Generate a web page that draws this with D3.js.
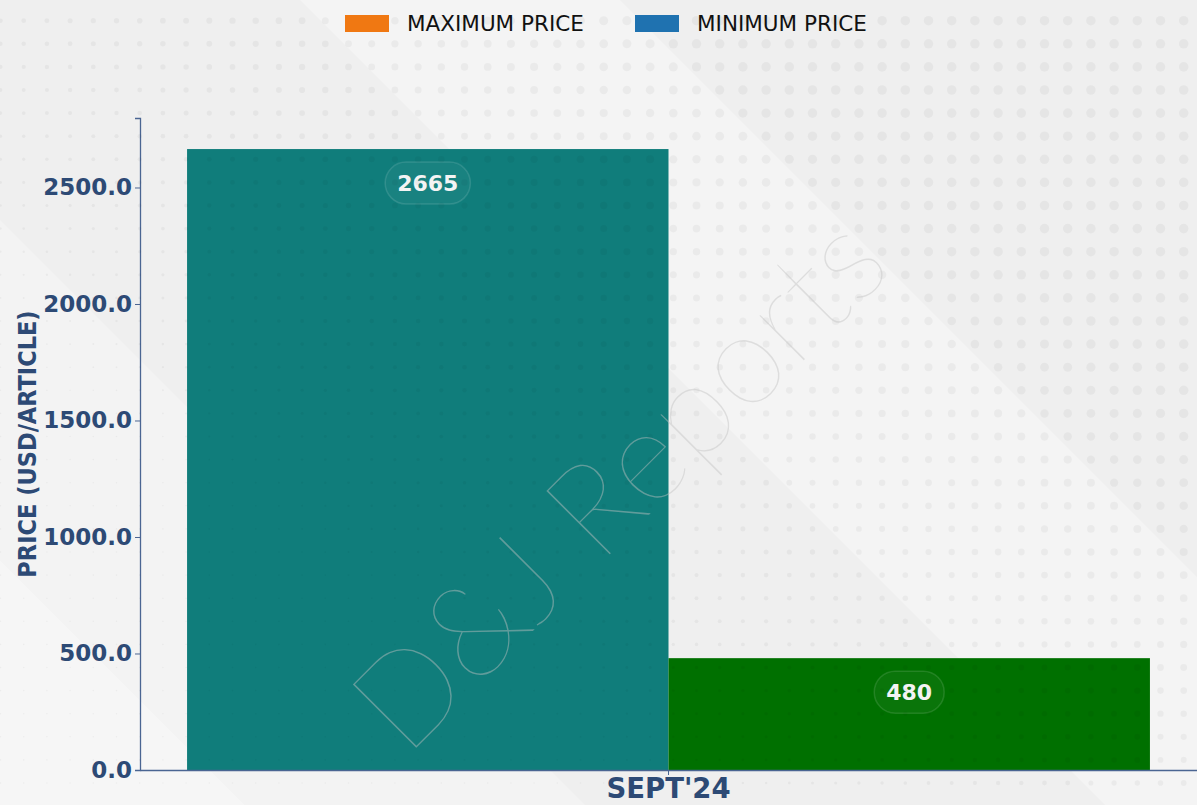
<!DOCTYPE html>
<html>
<head>
<meta charset="utf-8">
<script src="https://cdn.jsdelivr.net/npm/d3@7"></script>
<style>
  body { margin: 0; background: #efefef; }
  svg { display: block; font-family: "DejaVu Sans", sans-serif; }
</style>
</head>
<body>
<div id="chart"></div>
<script>
// chart data
const categories = ["SEPT'24"];
const seriesNames = ["MAXIMUM PRICE", "MINIMUM PRICE"];
const maxPrice = [2665];
const minPrice = [480];
const yTicks = [0, 500, 1000, 1500, 2000, 2500];

// styles
const barColors = ["#107d7b", "#007000"];
const legendColors = ["#f07812", "#1f72b0"];
const axisColor = "#2d4a75";

const width = 1197, height = 805;
const margin = {top: 118, right: 0, bottom: 35, left: 140};
const innerW = width - margin.left - margin.right;
const innerH = height - margin.top - margin.bottom;

const svg = d3.select("#chart").append("svg")
    .attr("width", width)
    .attr("height", height);

// background with soft diagonal bands
svg.append("rect").attr("width", width).attr("height", height).attr("fill", "#efefef");
const bands = [
    [[0, 805], [0, 560], [245, 805]],
    [[0, 560], [0, 220], [585, 805], [245, 805]],
    [[300, 0], [620, 0], [1197, 577], [1197, 805], [1105, 805]]
];
svg.append("g").selectAll("polygon").data(bands).join("polygon")
    .attr("points", d => d.map(p => p.join(",")).join(" "))
    .attr("fill", "#ffffff")
    .attr("opacity", (d, i) => [0.45, 0.25, 0.3][i]);

const g = svg.append("g").attr("transform", `translate(${margin.left}, ${margin.top})`);

// scales
const x = d3.scaleBand().domain(categories).range([0, innerW]).padding(0.0466);
const xs = d3.scaleBand().domain(seriesNames).range([0, x.bandwidth()]).padding(0);
const y = d3.scaleLinear().domain([0, d3.max(maxPrice) * 1.05]).range([innerH, 0]);

const rows = categories.map((c, i) => ({cat: c, values: [maxPrice[i], minPrice[i]]}));

// bars
const catG = g.selectAll(".cat").data(rows).join("g")
    .attr("class", "cat")
    .attr("transform", d => `translate(${x(d.cat)}, 0)`);

catG.selectAll("rect").data(d => d.values.map((v, j) => ({name: seriesNames[j], v: v, j: j})))
    .join("rect")
    .attr("x", d => xs(d.name))
    .attr("y", d => y(d.v))
    .attr("width", xs.bandwidth())
    .attr("height", d => innerH - y(d.v))
    .attr("fill", d => barColors[d.j]);

// dot pattern overlay
const dots = [];
for (let yy = 20.7; yy < height; yy += 23.1) {
    for (let xx = 0.5; xx < width; xx += 23.2) {
        const t = (xx / width) - (yy / height) * 0.9;
        const r = Math.max(0.8, Math.min(4.8, 2.4 + t * 4.5));
        dots.push({x: xx, y: yy, r: r});
    }
}
svg.append("g").selectAll("circle").data(dots).join("circle")
    .attr("cx", d => d.x).attr("cy", d => d.y).attr("r", d => d.r)
    .attr("fill", "#000").attr("opacity", 0.04);

// watermark
svg.append("text")
    .attr("transform", "translate(650, 514) rotate(-45)")
    .attr("text-anchor", "middle")
    .style("font-family", "Lato, 'Open Sans', sans-serif")
    .style("font-weight", 100)
    .style("font-size", "128px")
    .attr("fill", "rgb(195,195,195)")
    .attr("opacity", 0.45)
    .text("D&J Reports");

// value labels with pills
const labels = g.append("g");
rows.forEach(r => {
    r.values.forEach((v, j) => {
        const cx = x(r.cat) + xs(seriesNames[j]) + xs.bandwidth() / 2;
        const cy = y(v) + 34;
        const lg = labels.append("g").attr("transform", `translate(${cx}, ${cy})`);
        const pill = lg.append("rect");
        const t = lg.append("text")
            .attr("text-anchor", "middle")
            .attr("dy", "0.36em")
            .style("font-weight", "bold")
            .style("font-size", "22px")
            .attr("fill", "#f4f4f4")
            .text(v);
        const w = t.node().getComputedTextLength() + 24;
        pill.attr("x", -w / 2).attr("y", -21).attr("width", w).attr("height", 42)
            .attr("rx", 21)
            .attr("fill", "#ffffff").attr("fill-opacity", 0.04)
            .attr("stroke", "#ffffff").attr("stroke-opacity", 0.12).attr("stroke-width", 1.5);
    });
});

// axes
const yAxis = g.append("g")
    .call(d3.axisLeft(y).tickValues(yTicks).tickFormat(d3.format(".1f")).tickSize(5).tickPadding(3));
yAxis.select(".domain").attr("stroke", "#4a6592").attr("stroke-width", 1.3);
yAxis.selectAll(".tick line").attr("stroke", "#4a6592");
yAxis.selectAll(".tick text")
    .attr("fill", axisColor)
    .style("font-size", "23px")
    .style("font-weight", "bold")
    .style("font-family", "'DejaVu Sans', sans-serif");

const xAxis = g.append("g")
    .attr("transform", `translate(0, ${innerH})`)
    .call(d3.axisBottom(x).tickSize(5).tickPadding(3).tickSizeOuter(0));
xAxis.select(".domain").attr("stroke", "#4a6592").attr("stroke-width", 1.3);
xAxis.selectAll(".tick line").attr("stroke", "#4a6592");
xAxis.selectAll(".tick text")
    .attr("fill", axisColor)
    .style("font-size", "27.5px")
    .style("font-weight", "bold")
    .style("font-family", "'DejaVu Sans', sans-serif");

// y axis title
svg.append("text")
    .attr("transform", `translate(36, ${margin.top + innerH / 2}) rotate(-90)`)
    .attr("text-anchor", "middle")
    .style("font-family", "'DejaVu Sans Condensed', 'DejaVu Sans', sans-serif")
    .style("font-stretch", "condensed")
    .style("font-size", "25px")
    .style("font-weight", "bold")
    .attr("fill", axisColor)
    .text("PRICE (USD/ARTICLE)");

// legend
const legend = svg.append("g");
const legendX = [345, 635];
seriesNames.forEach((n, i) => {
    legend.append("rect")
        .attr("x", legendX[i]).attr("y", 15).attr("width", 44).attr("height", 17)
        .attr("fill", legendColors[i]);
    legend.append("text")
        .attr("x", legendX[i] + 62).attr("y", 31)
        .style("font-size", "21.5px")
        .attr("fill", "#111")
        .text(n);
});
</script>
</body>
</html>
